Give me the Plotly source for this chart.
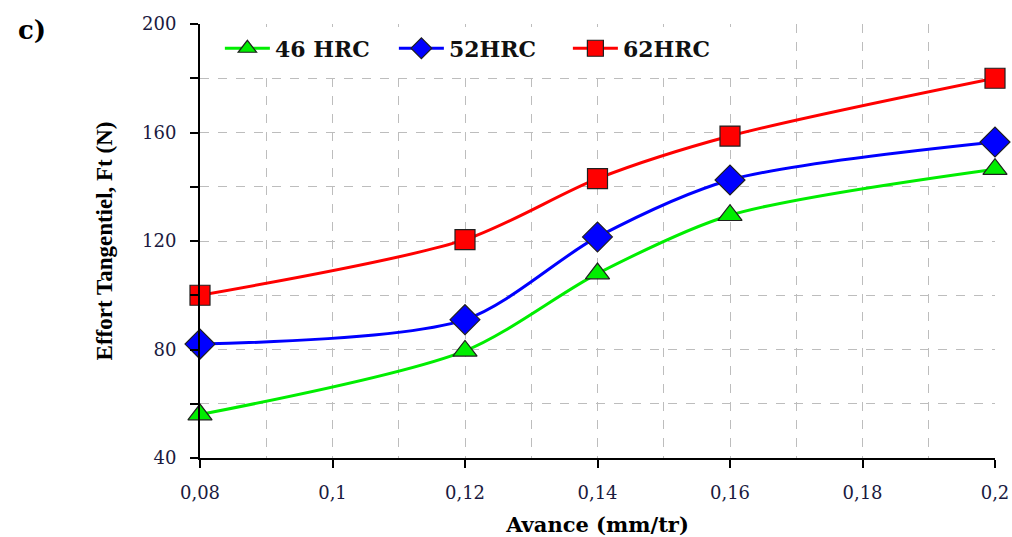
import plotly.graph_objects as go

avance = [0.08, 0.12, 0.14, 0.16, 0.2]
hrc46 = [56, 79.5, 108, 129.5, 146.5]
hrc52 = [82, 91, 121.5, 142.5, 156.5]
hrc62 = [100, 120.5, 143, 158.7, 180]

series = [
    ("46 HRC", hrc46, "#00ee00", "triangle-up", 21),
    ("52HRC", hrc52, "#0000ff", "diamond", 23),
    ("62HRC", hrc62, "#ff0000", "square", 20),
]

fig = go.Figure()
for name, vals, col, sym, sz in series:
    fig.add_trace(go.Scatter(
        x=avance, y=vals, name="<b>" + name + "</b>", mode="lines+markers",
        line=dict(color=col, width=3, shape="spline", smoothing=0.8),
        marker=dict(symbol=sym, size=sz, color=col,
                    line=dict(color="#202020", width=1.2)),
        cliponaxis=False,
    ))

serif = "Liberation Serif"
wide = "DejaVu Serif"
fig.update_layout(
    width=1012, height=537,
    paper_bgcolor="white", plot_bgcolor="white",
    margin=dict(l=200, r=17, t=24, b=79),
    separators=", ",
    showlegend=True,
    legend=dict(orientation="h", x=0.025, y=0.992, xanchor="left", yanchor="top",
                font=dict(family=wide, size=22, color="#111111"),
                bgcolor="white", itemwidth=45, tracegroupgap=0,
                entrywidth=114, entrywidthmode="pixels"),
    font=dict(family=wide, color="#1a1a3a"),
)
fig.update_xaxes(
    range=[0.08, 0.2], dtick=0.02, tick0=0.08, automargin=False,
    showline=True, linecolor="black", linewidth=2,
    ticks="outside", ticklen=8, tickwidth=2, tickcolor="black",
    ticklabelstandoff=9,
    showgrid=True, gridcolor="#bdbdbd", griddash="dash", gridwidth=1.2,
    minor=dict(dtick=0.01, showgrid=True, gridcolor="#bdbdbd", griddash="dash", gridwidth=1.2),
    tickfont=dict(family=wide, size=18, color="#1a1a40"),
    title=dict(text="<b>Avance (mm/tr)</b>", font=dict(family=wide, size=21, color="black"), standoff=18),
    zeroline=False,
)
fig.update_yaxes(
    range=[40, 200], dtick=40, tick0=40, automargin=False,
    showline=True, linecolor="black", linewidth=2,
    ticks="outside", ticklen=8, tickwidth=2, tickcolor="black",
    ticklabelstandoff=10,
    showgrid=True, gridcolor="#bdbdbd", griddash="dash", gridwidth=1.2,
    minor=dict(dtick=20, ticks="outside", ticklen=8, tickwidth=2, tickcolor="black",
               showgrid=True, gridcolor="#bdbdbd", griddash="dash", gridwidth=1.2),
    tickfont=dict(family=wide, size=18, color="#1a1a40"),
    title=dict(text="<b>Effort Tangentiel, Ft (N)</b>", font=dict(family=serif, size=23, color="black"), standoff=23),
    zeroline=False,
)
fig.add_annotation(text="<b>c)</b>", xref="paper", yref="paper", x=-0.232, y=1.026,
                   xanchor="left", yanchor="top", showarrow=False,
                   font=dict(family=wide, size=26, color="black"))
fig.write_html("out.html", config={"displayModeBar": False},
               post_script="document.body.style.margin='0';document.body.style.overflow='hidden';")
